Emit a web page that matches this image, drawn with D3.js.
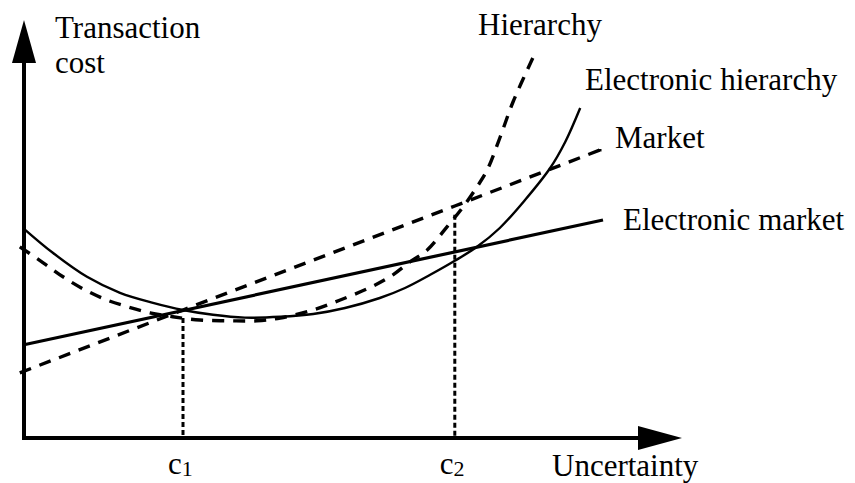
<!DOCTYPE html>
<html>
<head>
<meta charset="utf-8">
<script src="https://cdn.jsdelivr.net/npm/d3@7"></script>
<style>
  body { margin: 0; background: #fff; }
  text { font-family: "Liberation Serif", "Times New Roman", serif; fill: #000; }
</style>
</head>
<body>
<div id="chart"></div>
<script>
// Curve data (uncertainty, transaction cost) in chart units
const hierarchyX = [-0.7, 3.2, 6.5, 10.2, 13.8, 17.3, 21, 24.8, 29.3, 34.3, 38.8, 42.7, 47.7, 52.7, 58.2, 61.5, 64.3, 67.2, 70.5, 73.2, 75.5, 77.2, 79.3, 81.5, 84.8]
const hierarchyY = [47.8, 43.8, 40.3, 37, 34.5, 32.8, 31.3, 30.3, 29.5, 29.3, 29.3, 30, 31.8, 34.5, 38, 40.8, 44, 47, 52.8, 57.8, 62.8, 67, 75, 84, 95]

const eHierarchyX = [0, 4.8, 10.5, 16, 21.5, 26.5, 31.5, 36.8, 42.7, 48.2, 53.5, 59.3, 63.5, 67.7, 71.8, 75.5, 79.3, 83.5, 87.7, 90.2, 92.7]
const eHierarchyY = [52.3, 46.3, 40.3, 36.3, 33.8, 32, 30.8, 30.1, 30.3, 31, 32.5, 35, 37.5, 40.8, 44.3, 47.8, 52.5, 59.5, 67.5, 74, 82.5]

const marketX = [-0.7, 26.5, 71.8, 96]
const marketY = [16.3, 32, 58, 72]

const eMarketX = [0, 96.5]
const eMarketY = [23.3, 54.5]

// Threshold points c1, c2
const thresholdLabels = ["1", "2"]
const thresholdX = [26.5, 71.8]
const thresholdY = [30, 55.8]

const seriesNames = ["Hierarchy", "Electronic hierarchy", "Market", "Electronic market"]

// Layout
const WIDTH = 855
const HEIGHT = 483
const FONT = 31

const svg = d3.select("#chart").append("svg")
    .attr("width", WIDTH)
    .attr("height", HEIGHT)

const x = d3.scaleLinear().domain([0, 100]).range([24, 624])
const y = d3.scaleLinear().domain([0, 100]).range([438, 38])

const zip = (xs, ys) => xs.map((v, i) => [v, ys[i]])

const line = d3.line()
    .x(d => x(d[0]))
    .y(d => y(d[1]))

const series = [
    {name: seriesNames[0], pts: zip(hierarchyX, hierarchyY), width: 3.4, dash: "12,9", curve: d3.curveCatmullRom},
    {name: seriesNames[1], pts: zip(eHierarchyX, eHierarchyY), width: 2.4, dash: null, curve: d3.curveCatmullRom},
    {name: seriesNames[2], pts: zip(marketX, marketY), width: 3.4, dash: "12,9", curve: d3.curveLinear},
    {name: seriesNames[3], pts: zip(eMarketX, eMarketY), width: 3.2, dash: null, curve: d3.curveLinear}
]

// Dotted threshold lines, from the crossing down to the axis
svg.selectAll("line.threshold")
    .data(thresholdX)
    .enter()
    .append("line")
    .attr("class", "threshold")
    .attr("x1", d => x(d)).attr("x2", d => x(d))
    .attr("y1", (d, i) => y(thresholdY[i]))
    .attr("y2", y(0))
    .attr("stroke", "#000")
    .attr("stroke-width", 3)
    .attr("stroke-dasharray", "5,3")

// Curves
svg.selectAll("path.series")
    .data(series)
    .enter()
    .append("path")
    .attr("class", "series")
    .attr("fill", "none")
    .attr("stroke", "#000")
    .attr("stroke-width", d => d.width)
    .attr("stroke-dasharray", d => d.dash)
    .attr("d", d => line.curve(d.curve)(d.pts))

// Dot ending the market line
svg.append("rect")
    .attr("x", x(96) - 1).attr("y", y(72) - 1)
    .attr("width", 2.5).attr("height", 2.5)

// Axes with arrow heads
svg.append("line")
    .attr("x1", x(0)).attr("y1", y(0) + 2)
    .attr("x2", x(0)).attr("y2", 60)
    .attr("stroke", "#000").attr("stroke-width", 4)
svg.append("line")
    .attr("x1", x(0) - 2).attr("y1", y(0))
    .attr("x2", 640).attr("y2", y(0))
    .attr("stroke", "#000").attr("stroke-width", 4)
svg.append("path")
    .attr("d", `M${x(0)},20 L${x(0) + 12},63 L${x(0) - 12},63 Z`)
svg.append("path")
    .attr("d", `M682,${y(0)} L638,${y(0) - 12} L638,${y(0) + 12} Z`)

// Axis titles
svg.append("text").attr("x", 55).attr("y", 38).attr("font-size", FONT).text("Transaction")
svg.append("text").attr("x", 55).attr("y", 73).attr("font-size", FONT).text("cost")
svg.append("text").attr("x", 552).attr("y", 476).attr("font-size", FONT).text("Uncertainty")

// Series labels
const labelPos = [[478, 35], [585, 90], [615, 148], [623, 230]]
svg.selectAll("text.series")
    .data(seriesNames)
    .enter()
    .append("text")
    .attr("class", "series")
    .attr("x", (d, i) => labelPos[i][0])
    .attr("y", (d, i) => labelPos[i][1])
    .attr("font-size", FONT)
    .text(d => d)

// Threshold labels c1, c2
thresholdX.forEach((tx, i) => {
    const t = svg.append("text")
        .attr("x", x(tx) - 15)
        .attr("y", 474)
        .attr("font-size", FONT)
        .text("c")
    t.append("tspan")
        .attr("font-size", 22)
        .attr("dy", 2)
        .text(thresholdLabels[i])
})
</script>
</body>
</html>
